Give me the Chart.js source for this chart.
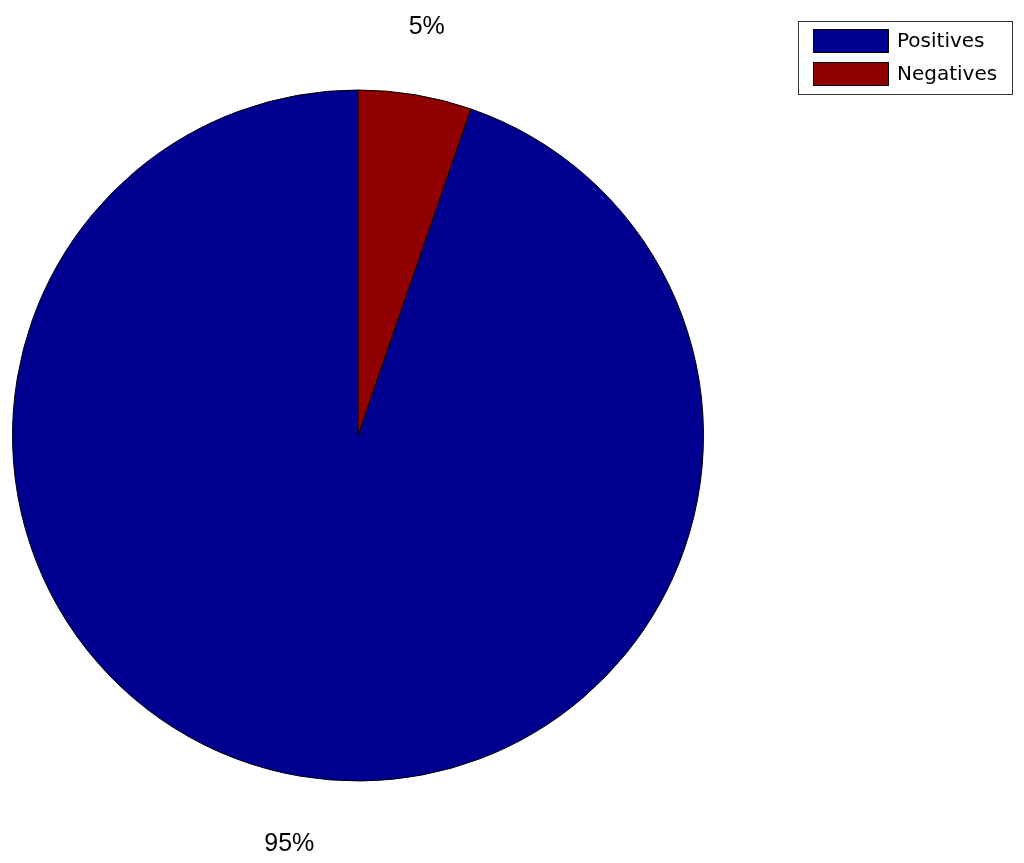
<!DOCTYPE html>
<html>
<head>
<meta charset="utf-8">
<script src="https://cdn.jsdelivr.net/npm/chart.js@4"></script>
<style>
  html, body { margin: 0; padding: 0; background: #ffffff; }
  #wrap { width: 1024px; height: 863px; }
</style>
</head>
<body>
<div id="wrap"><canvas id="pieChart" width="1024" height="863"></canvas></div>
<script>
const labels = ['Positives', 'Negatives'];
const values = [94.7, 5.3];
const pctLabels = ['95%', '5%'];
const colors = ['#000090', '#900000'];

// draw the percentage text outside each slice
const sliceLabels = {
  id: 'sliceLabels',
  afterDatasetsDraw(chart) {
    const ctx = chart.ctx;
    const arcs = chart.getDatasetMeta(0).data;
    ctx.save();
    ctx.font = '25px "Liberation Sans", Arial, sans-serif';
    ctx.fillStyle = '#000000';
    ctx.textAlign = 'center';
    ctx.textBaseline = 'middle';
    arcs.forEach((arc, i) => {
      const p = arc.getProps(['x', 'y', 'startAngle', 'endAngle', 'outerRadius'], true);
      const mid = (p.startAngle + p.endAngle) / 2;
      const r = p.outerRadius * 1.2;
      ctx.fillText(pctLabels[i], p.x + Math.cos(mid) * r, p.y + Math.sin(mid) * r);
    });
    ctx.restore();
  }
};

// boxed legend in the top right corner
const boxLegend = {
  id: 'boxLegend',
  afterDraw(chart) {
    const ctx = chart.ctx;
    ctx.save();
    ctx.fillStyle = '#ffffff';
    ctx.fillRect(798.5, 21.5, 214, 73);
    ctx.strokeStyle = '#333333';
    ctx.lineWidth = 1;
    ctx.strokeRect(798.5, 21.5, 214, 73);
    ctx.font = '20px "DejaVu Sans", sans-serif';
    ctx.textBaseline = 'middle';
    chart.data.labels.forEach((lab, i) => {
      const y = 29.5 + i * 33;
      ctx.fillStyle = colors[i];
      ctx.fillRect(813.5, y, 75, 23);
      ctx.strokeStyle = '#000000';
      ctx.strokeRect(813.5, y, 75, 23);
      ctx.fillStyle = '#000000';
      ctx.fillText(lab, 897, y + 12);
    });
    ctx.restore();
  }
};

const ctx = document.getElementById('pieChart').getContext('2d');
const pieChart = new Chart(ctx, {
  type: 'pie',
  data: {
    labels: labels,
    datasets: [{
      data: values,
      backgroundColor: colors,
      borderColor: '#000000',
      borderWidth: 1
    }]
  },
  options: {
    responsive: false,
    animation: false,
    // start so that the small slice ends at 12 o'clock
    rotation: values[1] / (values[0] + values[1]) * 360,
    layout: { padding: { left: 12, right: 320, top: 89, bottom: 81 } },
    plugins: {
      legend: { display: false },
      tooltip: { enabled: false }
    }
  },
  plugins: [sliceLabels, boxLegend]
});
</script>
</body>
</html>
